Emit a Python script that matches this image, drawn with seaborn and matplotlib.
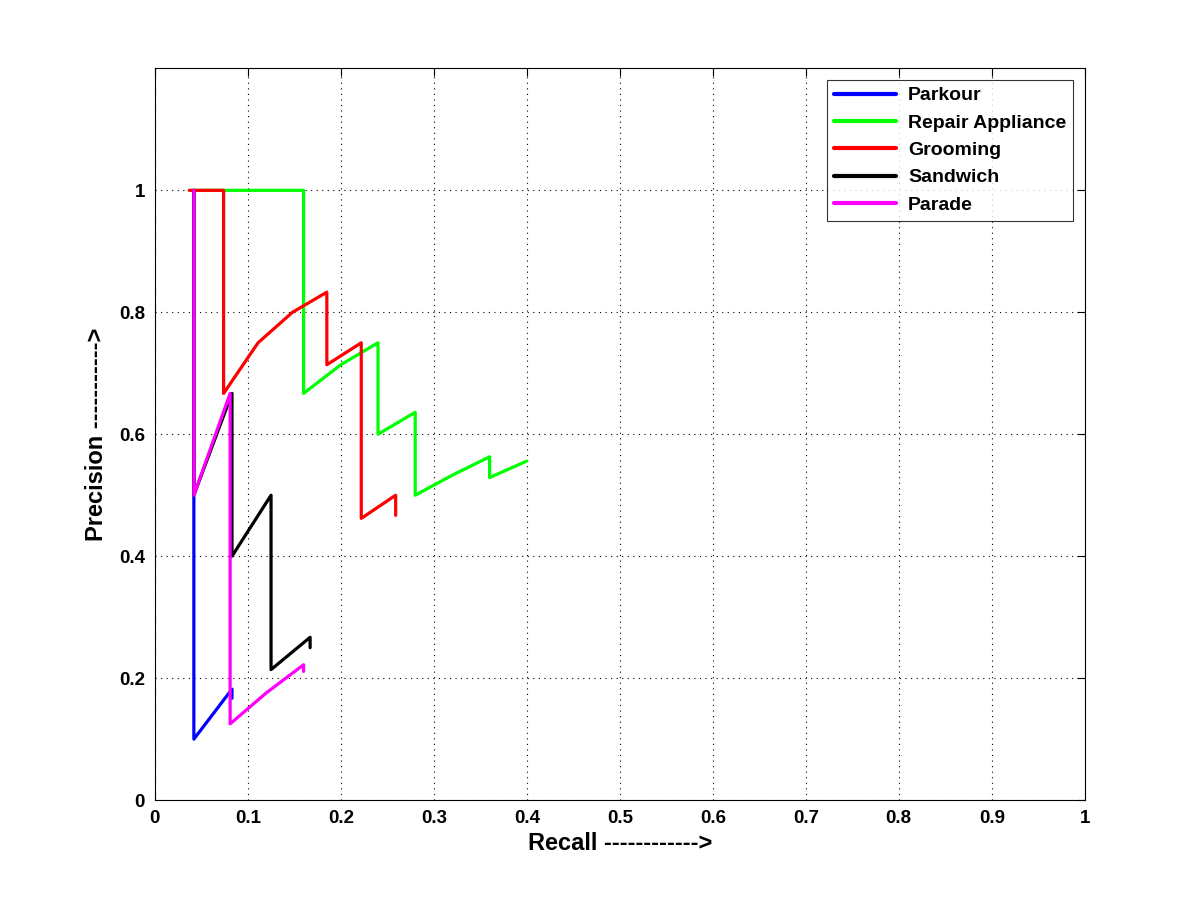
import numpy as np
import pandas as pd
import seaborn as sns
import matplotlib
matplotlib.use('Agg')
import matplotlib.pyplot as plt

# precision / recall vertices
names = ['Parkour', 'Repair Appliance', 'Grooming', 'Sandwich', 'Parade']
colors = ['#0000ff', '#00ff00', '#ff0000', '#000000', '#ff00ff']

parkour_r = [0.042, 0.042, 0.083, 0.083]
parkour_p = [1.0, 0.1, 0.182, 0.167]

repair_r = [0.04, 0.16, 0.16, 0.2, 0.24, 0.24, 0.28, 0.28, 0.32, 0.36, 0.36, 0.4]
repair_p = [1.0, 1.0, 0.667, 0.714, 0.75, 0.6, 0.636, 0.5, 0.533, 0.563, 0.529, 0.556]

grooming_r = [0.037, 0.074, 0.074, 0.111, 0.148, 0.185, 0.185, 0.222, 0.222, 0.259, 0.259]
grooming_p = [1.0, 1.0, 0.667, 0.75, 0.8, 0.833, 0.714, 0.75, 0.462, 0.5, 0.467]

sandwich_r = [0.042, 0.042, 0.083, 0.083, 0.125, 0.125, 0.167, 0.167]
sandwich_p = [1.0, 0.5, 0.667, 0.4, 0.5, 0.214, 0.267, 0.25]

parade_r = [0.042, 0.042, 0.081, 0.081, 0.12, 0.16, 0.16]
parade_p = [1.0, 0.5, 0.667, 0.125, 0.176, 0.222, 0.211]

xticks = [0, 0.1, 0.2, 0.3, 0.4, 0.5, 0.6, 0.7, 0.8, 0.9, 1]
yticks = [0, 0.2, 0.4, 0.6, 0.8, 1]

recalls = [parkour_r, repair_r, grooming_r, sandwich_r, parade_r]
precs = [parkour_p, repair_p, grooming_p, sandwich_p, parade_p]

rows = []
for name, r, p in zip(names, recalls, precs):
    for i in range(len(r)):
        rows.append({'Class': name, 'Recall': r[i], 'Precision': p[i]})
df = pd.DataFrame(rows)

sns.set_style('white')
plt.rcParams['font.sans-serif'] = ['Liberation Sans', 'DejaVu Sans']
plt.rcParams['font.family'] = 'sans-serif'
plt.rcParams['text.color'] = 'black'
plt.rcParams['axes.labelcolor'] = 'black'

fig = plt.figure(figsize=(12, 9), dpi=100)
ax = fig.add_axes([0.129, 0.111, 0.775, 0.813])

sns.lineplot(data=df, x='Recall', y='Precision', hue='Class', hue_order=names,
             palette=dict(zip(names, colors)), sort=False, estimator=None,
             units='Class', lw=2.3, ax=ax)

ax.set_xlim(0, 1)
ax.set_ylim(0, 1.2)
ax.set_xticks(xticks)
ax.set_xticklabels([('%g' % t) for t in xticks])
ax.set_yticks(yticks)
ax.set_yticklabels([('%g' % t) for t in yticks])
ax.grid(True, linestyle=(0, (1, 4)), color='black', lw=0.8)
ax.tick_params(direction='in', length=6, width=0.8, top=True, right=True,
               labelsize=13.5, pad=7, colors='black')
for lbl in ax.get_xticklabels() + ax.get_yticklabels():
    lbl.set_fontweight('bold')
for s in ax.spines.values():
    s.set_color('black')
    s.set_linewidth(0.8)

ax.set_xlabel('Recall ------------>', fontsize=17, fontweight='bold', labelpad=4)
ax.set_ylabel('Precision ----------->', fontsize=17, fontweight='bold', labelpad=8)

leg = ax.legend(loc='upper right', prop={'weight': 'bold', 'size': 14},
                frameon=True, fancybox=False, edgecolor='black', handlelength=3.2,
                borderaxespad=0.6, labelspacing=0.5, borderpad=0.35,
                handletextpad=0.6)
leg.get_frame().set_linewidth(0.8)
for line in leg.get_lines():
    line.set_linewidth(3)

fig.savefig('out.png', dpi=100, facecolor='white')
